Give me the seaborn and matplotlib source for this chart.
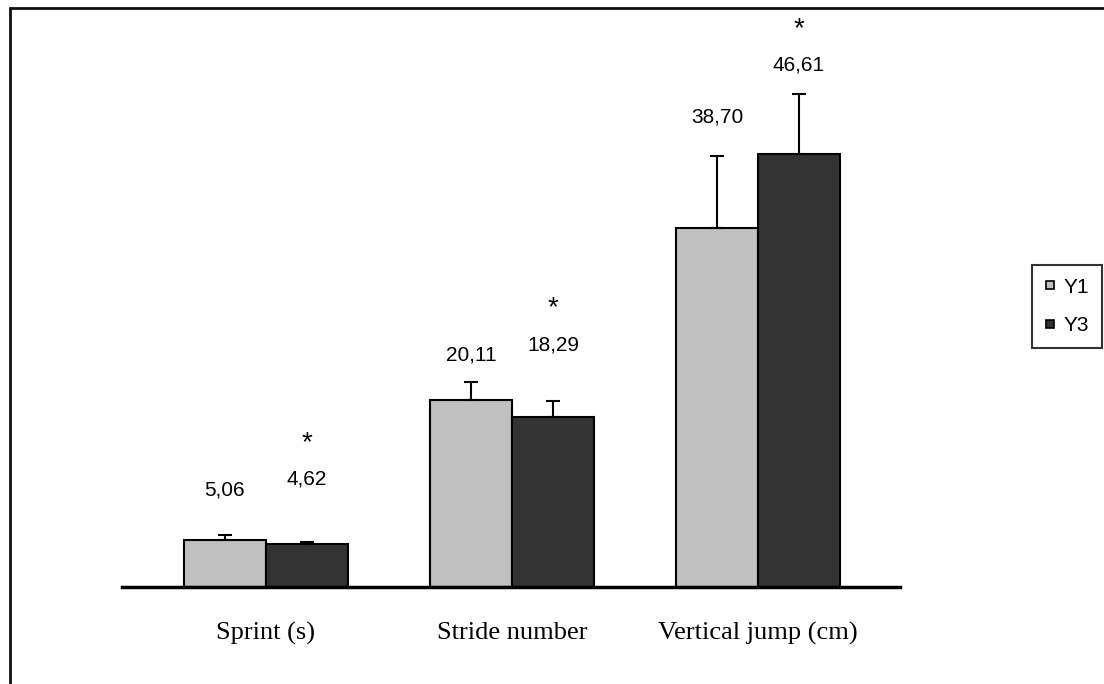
"""Sprint, stride number and vertical jump: Y1 vs Y3 bar chart with SD whiskers."""

import matplotlib.pyplot as plt
import pandas as pd
import seaborn as sns
from matplotlib.lines import Line2D
from matplotlib.patches import Rectangle

# Data
MEASURES = ["Sprint (s)", "Stride number", "Vertical jump (cm)"]
GROUPS = ["Y1", "Y3"]
Y1_MEAN = [5.06, 20.11, 38.70]
Y3_MEAN = [4.62, 18.29, 46.61]
Y1_SD = [0.50, 1.95, 7.75]
Y3_SD = [0.25, 1.70, 6.50]
Y1_LABELS = ["5,06", "20,11", "38,70"]
Y3_LABELS = ["4,62", "18,29", "46,61"]
SIGNIFICANT = [True, True, True]  # Y3 differs from Y1

COLORS = {"Y1": "#c0c0c0", "Y3": "#333333"}

# Label placement above whisker tops (points), tuned to the original layout
Y1_LABEL_PAD = [33, 20, 28]
Y3_LABEL_PAD = [45, 41, 21]
STAR_PAD = 26


def main():
    df = pd.DataFrame({
        "measure": MEASURES * 2,
        "group": ["Y1"] * 3 + ["Y3"] * 3,
        "mean": Y1_MEAN + Y3_MEAN,
    })

    sns.set_style("white")
    plt.rcParams["text.color"] = "black"
    plt.rcParams["xtick.color"] = "black"

    fig = plt.figure(figsize=(11.04, 6.84), dpi=100)
    ax = fig.add_axes([0.1105, 0.1418, 0.7047, 0.829])

    sns.barplot(
        data=df, x="measure", y="mean", hue="group", order=MEASURES,
        hue_order=GROUPS, palette=COLORS, width=0.667, errorbar=None,
        edgecolor="black", linewidth=1.5, saturation=1, legend=False, ax=ax,
    )

    sds = {"Y1": Y1_SD, "Y3": Y3_SD}
    means = {"Y1": Y1_MEAN, "Y3": Y3_MEAN}
    labels = {"Y1": Y1_LABELS, "Y3": Y3_LABELS}
    pads = {"Y1": Y1_LABEL_PAD, "Y3": Y3_LABEL_PAD}

    for group, container in zip(GROUPS, ax.containers):
        xs = [bar.get_x() + bar.get_width() / 2 for bar in container]
        ax.errorbar(
            xs, means[group], yerr=[[0] * 3, sds[group]], fmt="none",
            ecolor="black", elinewidth=1.5, capsize=5, capthick=1.5, zorder=1,
        )
        for i, x in enumerate(xs):
            top = means[group][i] + sds[group][i]
            ax.annotate(
                labels[group][i], (x, top), xytext=(0, pads[group][i]),
                textcoords="offset points", ha="center", va="center",
                fontsize=15, family="Liberation Sans", color="black",
            )
            if group == "Y3" and SIGNIFICANT[i]:
                ax.annotate(
                    "*", (x, top), xytext=(0, pads[group][i] + STAR_PAD),
                    textcoords="offset points", ha="center", va="center",
                    fontsize=20, family="Liberation Sans", color="black",
                )

    ax.set_xlim(-0.585, 2.577)
    ax.set_ylim(0, 61.1)
    ax.set_xlabel("")
    ax.set_ylabel("")
    ax.set_yticks([])
    for side in ["left", "right", "top"]:
        ax.spines[side].set_visible(False)
    ax.spines["bottom"].set_linewidth(2.5)
    ax.spines["bottom"].set_color("black")
    ax.tick_params(axis="x", length=0, pad=25)
    for lbl in ax.get_xticklabels():
        lbl.set_fontfamily("Liberation Serif")
        lbl.set_fontsize(19)
        lbl.set_color("black")

    handles = [
        Line2D([], [], linestyle="none", marker="s", markersize=6,
               markerfacecolor=COLORS[g], markeredgecolor="black",
               markeredgewidth=1.2)
        for g in GROUPS
    ]
    leg = fig.legend(
        handles, GROUPS, loc="center right", bbox_to_anchor=(0.998, 0.552),
        frameon=True, fancybox=False, handlelength=0.6, handletextpad=0.35,
        labelspacing=0.95, borderpad=0.6, borderaxespad=0,
        prop={"family": "Liberation Sans", "size": 15},
    )
    leg.get_frame().set_edgecolor("black")
    leg.get_frame().set_linewidth(1.5)

    # outer chart border (only left and top edges fall inside the image)
    fig.add_artist(Rectangle(
        (10 / 1104, -0.1), 1.2, 1.1 - 8 / 684,
        transform=fig.transFigure, fill=False, edgecolor="#111111",
        linewidth=2,
    ))

    fig.savefig("out.png", dpi=100)


if __name__ == "__main__":
    main()
